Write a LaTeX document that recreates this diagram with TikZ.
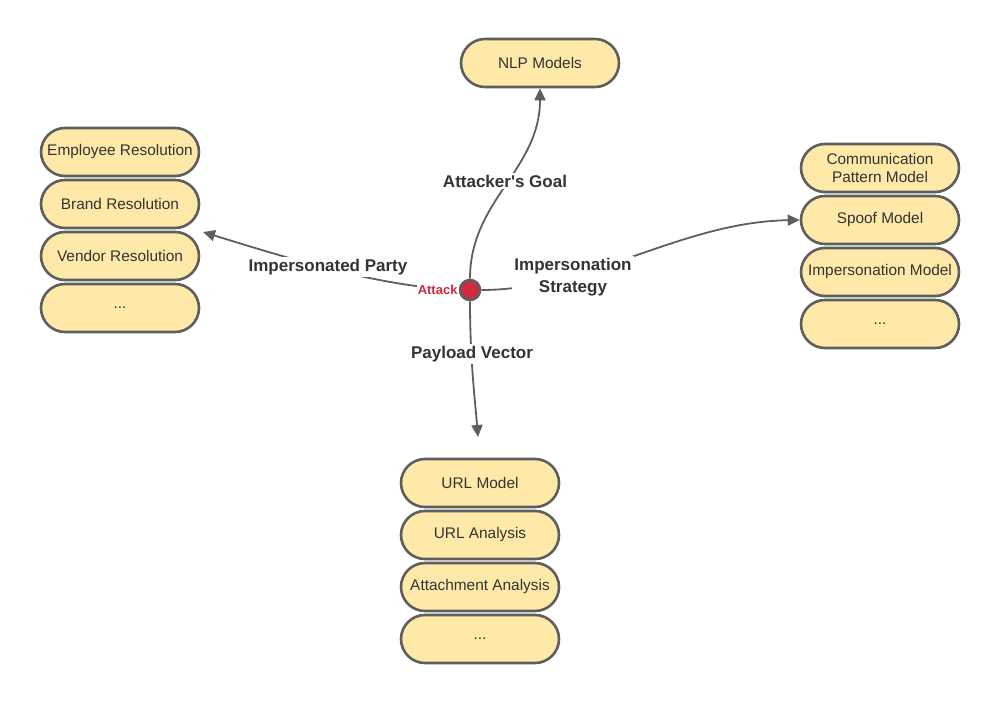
\documentclass[tikz,border=0pt]{standalone}
\usepackage{fontspec}
\setmainfont{Liberation Sans}
\usepackage{tikz}
\usetikzlibrary{shapes.misc, arrows.meta, positioning}
\usepackage{xcolor}
\definecolor{boxfill}{HTML}{FFE9A8}
\definecolor{boxline}{HTML}{5E5E5E}
\definecolor{attackred}{HTML}{D1293D}
\definecolor{txt}{HTML}{333333}

\begin{document}
\begin{tikzpicture}[x=1pt, y=-1pt,
  box/.style={rounded rectangle, draw=boxline, fill=boxfill, line width=2.6pt,
              minimum width=162pt, minimum height=48pt, inner sep=2pt,
              font=\fontsize{15.4}{18}\selectfont, text=txt, align=center},
  link/.style={draw=boxline, line width=1.8pt, -{Triangle[length=12pt,width=11pt]}},
  lbl/.style={font=\bfseries\fontsize{17}{22}\selectfont, text=txt, fill=white,
              inner sep=2pt, align=center},
  hub/.style={circle, draw=boxline, fill=attackred, line width=2.6pt,
              minimum size=20pt, inner sep=0pt},
  hublbl/.style={font=\bfseries\fontsize{13}{15}\selectfont, text=attackred,
                 fill=white, inner sep=1pt}
]
\useasboundingbox (0,0) rectangle (1000,702);

% Centre
\node[hub] (attack) at (470,290) {};

% Goal
\node[box] (nlp) at (540,63) {NLP Models};

% Impersonated party
\node[box] (employee) at (120,152) {Employee Resolution};
\node[box] (brand)    at (120,204) {Brand Resolution};
\node[box] (vendor)   at (120,256) {Vendor Resolution};
\node[box] (partymore) at (120,308) {...};

% Impersonation strategy
\node[box] (commpattern) at (880,168) {Communication\\Pattern Model};
\node[box] (spoof)       at (880,220) {Spoof Model};
\node[box] (impmodel)    at (880,272) {Impersonation Model};
\node[box] (stratmore)   at (880,324) {...};

% Payload vector
\node[box] (urlmodel)   at (480,483) {URL Model};
\node[box] (urlanalysis) at (480,535) {URL Analysis};
\node[box] (attachment) at (480,587) {Attachment Analysis};
\node[box] (payloadmore) at (480,639) {...};

% Free ends
\coordinate (partyend) at (203,232);
\coordinate (vectorend) at (478,437);

% Connectors
\draw[link] (attack.north) .. controls (470,200) and (540,170) .. (nlp.south);
\draw[link] (attack.west) .. controls (380,286) and (300,262) .. (partyend);
\draw[link] (attack.east) .. controls (590,290) and (680,222) .. (spoof.west);
\draw[link] (attack.south) .. controls (470,360) and (475,400) .. (vectorend);

% Labels
\node[lbl] (goallbl)   at (505,181) {Attacker\textquotesingle s Goal};
\node[lbl] (partylbl)  at (328,267) {Impersonated Party};
\node[lbl] (stratlbl)  at (573,277) {Impersonation\\Strategy};
\node[lbl] (vectorlbl) at (472,354) {Payload Vector};
\node[hublbl, left=0pt of attack] (attacktxt) {Attack};

\end{tikzpicture}
\end{document}
